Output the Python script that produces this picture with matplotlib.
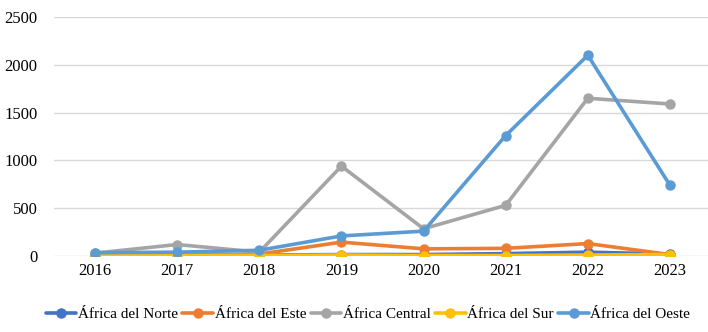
"""Cases by African region, 2016-2023."""

import matplotlib

matplotlib.use("Agg")
import matplotlib.pyplot as plt
import numpy as np

YEARS = ["2016", "2017", "2018", "2019", "2020", "2021", "2022", "2023"]
NORTE = [5, 8, 10, 15, 15, 25, 40, 20]
ESTE = [5, 10, 20, 145, 75, 80, 130, 15]
CENTRAL = [30, 120, 40, 940, 285, 530, 1650, 1590]
SUR = [5, 5, 5, 10, 5, 5, 10, 15]
OESTE = [35, 40, 60, 210, 260, 1260, 2100, 740]

SERIES = [
    ("África del Norte", NORTE, "#4472C4"),
    ("África del Este", ESTE, "#ED7D31"),
    ("África Central", CENTRAL, "#A5A5A5"),
    ("África del Sur", SUR, "#FFC000"),
    ("África del Oeste", OESTE, "#5B9BD5"),
]

plt.rcParams.update({
    "font.family": ["Liberation Serif", "DejaVu Serif"],
    "font.size": 12,
})

fig = plt.figure(figsize=(7.08, 3.32), dpi=100)
ax = fig.add_axes([54 / 708, 1 - 256 / 332, 657 / 708, 239 / 332])

x = np.arange(len(YEARS))
for name, values, color in SERIES:
    ax.plot(x, values, color=color, linewidth=2.6, marker="o", markersize=6.5,
            label=name, solid_capstyle="round")

ax.set_xlim(-0.5, len(YEARS) - 0.5)
ax.set_ylim(0, 2500)
ax.set_yticks(range(0, 2501, 500))
ax.set_xticks(x)
ax.set_xticklabels(YEARS)
ax.grid(axis="y", color="#D9D9D9", linewidth=1.0)
ax.set_axisbelow(True)
for spine in ax.spines.values():
    spine.set_visible(False)
ax.tick_params(length=0, labelsize=12, pad=5)
ax.tick_params(axis="y", pad=12)

fig.legend(loc="center", bbox_to_anchor=(368 / 708, 1 - 314 / 332), ncol=5,
           frameon=False, fontsize=11, handlelength=2.0, handletextpad=0.1,
           columnspacing=0.3)

fig.savefig("out.png", dpi=100)
